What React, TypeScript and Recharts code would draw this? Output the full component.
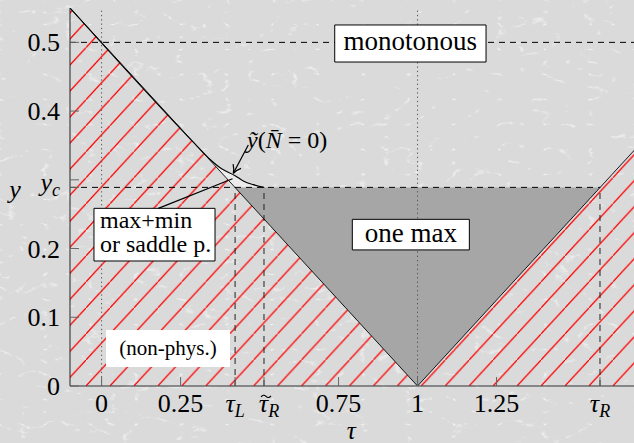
import { ComposedChart, Area, Line, XAxis, YAxis, ReferenceLine, ReferenceArea, ReferenceDot } from 'recharts'

const FONT = '"Liberation Serif"'
const TS = { fontFamily: FONT }

// characteristic values
const tauL = 0.4225
const tauTR = 0.514
const tauR = 1.5775
const yc = 0.289

// ticks ("main|sub" = math label with subscript, "~" = tilde accent)
const xTicks = [0, 0.25, tauL, tauTR, 0.75, 1, 1.25, tauR]
const xTickLabels = ['0', '0.25', 'τ|L', '~τ|R', '0.75', '1', '1.25', 'τ|R']
const yTicks = [0, 0.1, 0.2, 0.3, yc, 0.4, 0.5]
const yTickLabels = ['0', '0.1', '0.2', '', 'y|c', '0.4', '0.5']

// boundary of the non-physical region
const boundaryTau = [-0.1, 1, 1.7]
const boundaryY = [0.55, 0, 0.35]

// curve y~(N=0)
const curveTau = [-0.1, 0.3, 0.34, 0.38, 0.4225, 0.45, 0.48, 0.514]
const curveY = [0.55, 0.35, 0.331, 0.316, 0.306, 0.298, 0.293, 0.289]

// region "max+min or saddle p." lower edge (upper edge = curve)
const sliverLow = [0.35, 0.33, 0.31, 0.289, 0.289, 0.289, 0.289]

// "one max" triangle
const triTau = [tauL, 1, tauR]
const triLow = [yc, 0, yc]
const triHigh = [yc, yc, yc]

const boundaryData = boundaryTau.map((x, i) => ({ x, y: boundaryY[i] }))
const curveData = curveTau.map((x, i) => ({ x, y: curveY[i] }))
const sliverData = curveTau.slice(1).map((x, i) => ({ x, r: [sliverLow[i], curveY[i + 1]] }))
const triData = triTau.map((x, i) => ({ x, r: [triLow[i], triHigh[i]] }))

const TickText = ({ label, x, y, anchor }: { label: string; x: number; y: number; anchor: string }) => {
  let [main, sub] = label.split('|')
  if (sub === undefined)
    return <text x={x} y={y} textAnchor={anchor} style={TS} fontSize={26} fill="#000">{main}</text>
  const tilde = main.startsWith('~')
  if (tilde) main = main.slice(1)
  const tx = tilde ? x + 5 : x
  return (
    <g>
      <text x={tx} y={y} textAnchor={anchor} style={TS} fontSize={26} fontStyle="italic" fill="#000">
        {main}<tspan fontSize={18} dy={5}>{sub}</tspan>
      </text>
      {tilde ? (
        <path d={`M${x - 3},${y - 15} q2.5,-3.2 5,-0.6 t5,-0.6`} fill="none" stroke="#000" strokeWidth={1.1} />
      ) : null}
    </g>
  )
}

const BottomTick = (p: any) => {
  const i = xTicks.indexOf(p.payload.value)
  return (
    <g>
      <line x1={p.x} x2={p.x} y1={p.y} y2={p.y - 9} stroke="#666" />
      <TickText label={xTickLabels[i]} x={p.x} y={p.y + 26} anchor="middle" />
    </g>
  )
}
const TopTick = (p: any) => <line x1={p.x} x2={p.x} y1={p.y} y2={p.y + 9} stroke="#666" />
const LeftTick = (p: any) => {
  const lab = yTickLabels[yTicks.indexOf(p.payload.value)]
  return (
    <g>
      <line x1={p.x} x2={p.x + 9} y1={p.y} y2={p.y} stroke="#666" />
      {lab ? <TickText label={lab} x={p.x - 10} y={p.y + (lab.includes('|') ? 4 : 9)} anchor="end" /> : null}
    </g>
  )
}
const RightTick = (p: any) => <line x1={p.x} x2={p.x - 9} y1={p.y} y2={p.y} stroke="#666" />

const boxText = (lines: string[], size: number, center: boolean, dy: number) => (p: any) => {
  const { x, y, width, height } = p.viewBox
  if (center)
    return <text x={x + width / 2} y={y + height / 2 + dy} textAnchor="middle" style={TS} fontSize={size} fill="#000">{lines[0]}</text>
  return (
    <text x={x + 6} y={y + dy} style={TS} fontSize={size} fill="#000">
      {lines.map((l, i) => <tspan key={i} x={x + 6} dy={i ? 24 : 0}>{l}</tspan>)}
    </text>
  )
}

const arrowShape = (marker: boolean) => (p: any) => (
  <line x1={p.x1} y1={p.y1} x2={p.x2} y2={p.y2} stroke="#000" strokeWidth={1.2} markerEnd={marker ? 'url(#arr)' : undefined} />
)

export default function App() {
  return (
    <div style={{ position: 'relative', width: 634, height: 443, overflow: 'hidden' }}>
      <style>{'body{margin:0} svg text, svg tspan{font-family:"Liberation Serif", serif !important}'}</style>
      <svg width={634} height={443} style={{ position: 'absolute', left: 0, top: 0 }}>
        <defs>
          <filter id="marble" x="0" y="0" width="100%" height="100%">
            <feTurbulence type="turbulence" baseFrequency="0.022 0.04" numOctaves={4} seed={7} />
            <feColorMatrix type="matrix" values="0 0 0 0 1  0 0 0 0 1  0 0 0 0 1  -7 0 0 0 0.9" />
          </filter>
        </defs>
        <rect width={634} height={443} fill="#dadada" />
        <rect width={634} height={443} filter="url(#marble)" opacity={0.7} />
      </svg>
      <div style={{ position: 'absolute', left: 0, top: 0 }}>
        <ComposedChart width={660} height={443} margin={{ top: 8, right: 21.3, bottom: 0, left: 0 }}>
          <defs>
            <pattern id="hatch" patternUnits="userSpaceOnUse" x={86} y={386} width={23.95} height={26.03}>
              <line x1={-23.95} y1={52.06} x2={47.9} y2={-26.03} stroke="#ff0000" strokeWidth={1.25} />
            </pattern>
            <marker id="arr" markerWidth={12} markerHeight={12} refX={10} refY={6} orient="auto" markerUnits="userSpaceOnUse">
              <path d="M2,1.5 Q6,5 10,6 Q6,7 2,10.5" fill="none" stroke="#000" strokeWidth={1.2} />
            </marker>
          </defs>
          <XAxis dataKey="x" type="number" domain={[-0.1, 1.7]} ticks={xTicks} interval={0} allowDataOverflow
            tick={BottomTick} tickLine={false} tickSize={0} tickMargin={0} height={57} axisLine={{ stroke: '#333' }}
            label={(p: any) => {
              const vb = p.viewBox ?? { x: 70, y: 386, width: 568.7 }
              return <text x={vb.x + vb.width / 2 - 3} y={vb.y + 53} textAnchor="middle" style={TS} fontSize={25} fontStyle="italic">τ</text>
            }} />
          <XAxis xAxisId="top" orientation="top" dataKey="x" type="number" domain={[-0.1, 1.7]} ticks={xTicks} interval={0} allowDataOverflow
            tick={TopTick} tickLine={false} tickSize={0} tickMargin={0} height={0} axisLine={{ stroke: '#444' }} />
          <YAxis type="number" domain={[0, 0.55]} ticks={yTicks} interval={0} allowDataOverflow
            tick={LeftTick} tickLine={false} tickSize={0} tickMargin={0} width={70} axisLine={{ stroke: '#222' }}
            label={(p: any) => {
              const vb = p.viewBox ?? { x: 0, y: 8, height: 378 }
              return <text x={vb.x + 15} y={vb.y + 190} textAnchor="middle" style={TS} fontSize={26} fontStyle="italic">y</text>
            }} />
          <YAxis yAxisId="right" orientation="right" type="number" domain={[0, 0.55]} ticks={yTicks} interval={0} allowDataOverflow
            tick={RightTick} tickLine={false} tickSize={0} tickMargin={0} width={0} axisLine={{ stroke: '#444' }} />

          <Area data={sliverData} dataKey="r" type="monotone" fill="#ffffff" fillOpacity={0.45} stroke="none" isAnimationActive={false} zIndex={1} />
          <Area data={boundaryData} dataKey="y" type="linear" fill="url(#hatch)" fillOpacity={1} stroke="none" isAnimationActive={false} zIndex={2} />
          <Area data={triData} dataKey="r" type="linear" fill="#a6a6a6" fillOpacity={1} stroke="none" isAnimationActive={false} zIndex={3} />

          <ReferenceLine x={0} stroke="#555" strokeDasharray="1.3 3" zIndex={4} />
          <ReferenceLine x={1} stroke="#555" strokeDasharray="1.3 3" zIndex={4} />
          <ReferenceLine y={0.5} stroke="#000" strokeDasharray="6 5" zIndex={5} />
          <ReferenceLine segment={[{ x: -0.1, y: yc }, { x: tauR, y: yc }]} stroke="#000" strokeDasharray="6 5" zIndex={5} />
          <ReferenceLine segment={[{ x: tauL, y: 0 }, { x: tauL, y: yc }]} stroke="#222" strokeDasharray="6 5" zIndex={5} />
          <ReferenceLine segment={[{ x: tauTR, y: 0 }, { x: tauTR, y: yc }]} stroke="#222" strokeDasharray="6 5" zIndex={5} />
          <ReferenceLine segment={[{ x: tauR, y: 0 }, { x: tauR, y: yc }]} stroke="#222" strokeDasharray="6 5" zIndex={5} />

          <Line data={boundaryData} dataKey="y" type="linear" stroke="#000" strokeWidth={0.9} dot={false} activeDot={false} isAnimationActive={false} zIndex={6} />
          <Line data={curveData} dataKey="y" type="monotone" stroke="#000" strokeWidth={1.1} dot={false} activeDot={false} isAnimationActive={false} zIndex={6} />

          <ReferenceArea x1={0.7379} x2={1.2168} y1={0.4714} y2={0.5253} fill="#fff" fillOpacity={1} stroke="#000" strokeWidth={1}
            label={boxText(['monotonous'], 27, true, 7)} zIndex={7} />
          <ReferenceArea x1={0.7936} x2={1.164} y1={0.198} y2={0.2425} fill="#fff" fillOpacity={1} stroke="#000" strokeWidth={1}
            label={boxText(['one max'], 27, true, 7)} zIndex={7} />
          <ReferenceArea x1={-0.0241} x2={0.359} y1={0.1819} y2={0.2585} fill="#fff" fillOpacity={1} stroke="#000" strokeWidth={1}
            label={boxText(['max+min', 'or saddle p.'], 24, false, 20)} zIndex={7} />
          <ReferenceArea x1={0.0139} x2={0.4065} y1={0.0276} y2={0.0815} fill="#fff" fillOpacity={1} stroke="none"
            label={boxText(['(non-phys.)'], 21, true, 6)} zIndex={7} />

          <ReferenceLine segment={[{ x: 0.4644, y: 0.3506 }, { x: 0.4169, y: 0.3095 }]} stroke="#000" strokeWidth={1.2} shape={arrowShape(true)} zIndex={8} />
          <ReferenceLine segment={[{ x: 0.1795, y: 0.2585 }, { x: 0.4144, y: 0.3015 }]} stroke="#000" strokeWidth={1.2} shape={arrowShape(false)} zIndex={8} />
          <ReferenceDot x={0.4603} y={0.3463} r={0} zIndex={8}
            shape={(p: any) => (
              <text x={p.cx} y={p.cy} style={TS} fontSize={24} fill="#000">
                <tspan fontStyle="italic">ỹ</tspan>(<tspan fontStyle="italic">N̄</tspan> = 0)
              </text>
            )} />
        </ComposedChart>
      </div>
    </div>
  )
}
